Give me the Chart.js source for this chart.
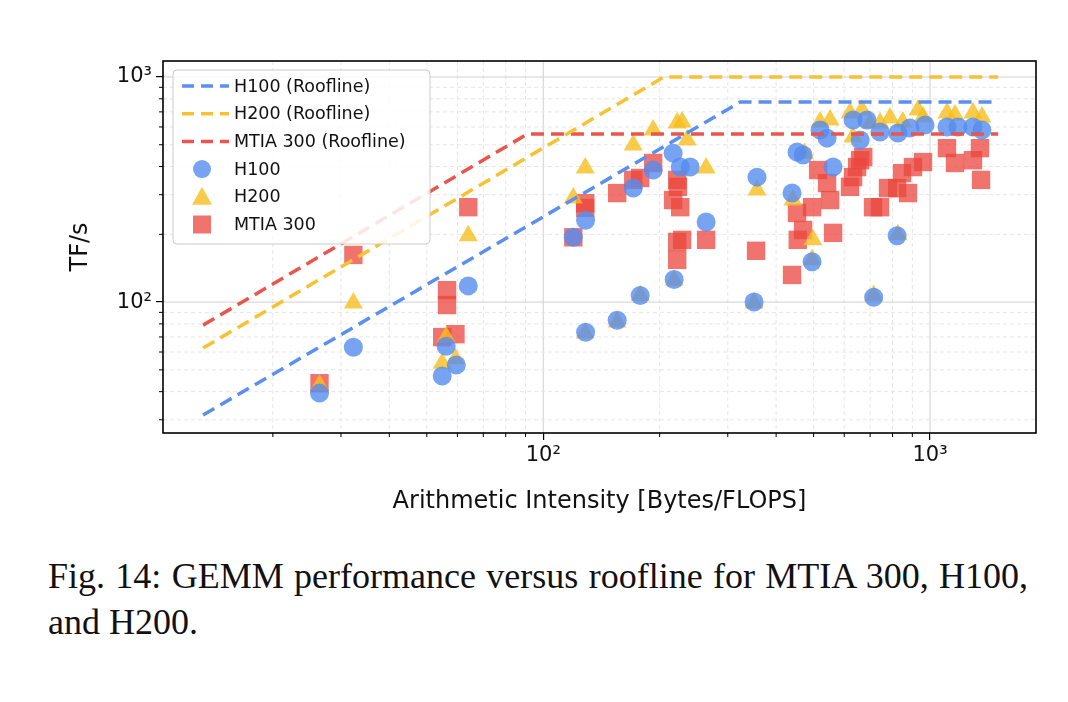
<!DOCTYPE html>
<html><head><meta charset="utf-8">
<script src="https://cdn.jsdelivr.net/npm/chart.js@4.4.1/dist/chart.umd.min.js"></script>
<style>
body{margin:0;background:#fff;width:1068px;height:702px;overflow:hidden}
#wrap{position:absolute;left:0;top:0;width:1068px;height:520px}
#cap{position:absolute;left:48px;top:553px;width:980px;font-family:"Liberation Serif","Times New Roman",serif;font-size:36px;line-height:46px;color:#111;text-align:justify;text-align-last:left}
</style></head><body>
<div id="wrap"><canvas id="c" width="1068" height="520"></canvas></div>
<div id="cap">Fig. 14: GEMM performance versus roofline for MTIA 300, H100, and H200.</div>
<script>
const h100Roof=[[13.2,31.5],[323,774],[1450,774]];
const h200Roof=[[13.2,62.5],[205,1000],[1500,1000]];
const mtiaRoof=[[13.2,79],[91,558],[1500,558]];
const h100Pts=[[26.4,39.4],[32.3,63],[54.8,46.9],[56.1,63.7],[59.6,52.5],[64,118],[119.6,194],[128.7,231],[128.7,73.5],[155.3,83],[178.1,107],[170.9,321],[192.4,386],[216.7,459],[226,398],[239.8,398],[218,126],[263.7,227],[357,359],[350.8,100],[439.8,305],[453,464],[469.6,450],[561.5,398],[495.5,151],[519.6,581],[541.8,535],[632.5,644],[659.6,525],[687,644],[715,105],[742.5,570],[826,564],[822,197],[887.6,593],[970.6,612],[1106,600],[1181,600],[1291,600],[1362,581]];
const h200Pts=[[32.3,99],[64,197],[54.8,53.5],[59.3,56],[26.4,42.8],[56.1,69.9],[119.6,290],[128.4,394],[128.4,72.9],[170.9,499],[192.4,581],[222,625],[228.6,631],[235.6,525],[263.7,394],[155.3,81.5],[178.1,107],[218,125],[357,315],[350.8,99],[442,284],[474,459],[519.6,631],[551.6,644],[621,692],[667,713],[699.5,625],[498,189],[495.5,154],[742.5,625],[788,658],[850,631],[930.8,713],[959,664],[1106,692],[1160,678],[1291,692],[1362,664],[826,199],[715,107],[632.5,541]];
const mtiaPts=[[26.4,43.6],[32.3,162],[64,264],[56.4,113],[56.4,97],[54.8,69.9],[59.3,72],[119.6,194],[128.4,275],[128.4,262],[155.3,305],[170.9,349],[178.1,356],[192.4,415],[222,349],[223,325],[216.7,284],[226,264],[222,185],[228.6,189],[222,154],[263.7,189],[355,169],[439.8,132],[453,249],[455,189],[469.6,209],[495.5,264],[513.6,386],[541.8,338],[551.6,284],[561.5,203],[621,325],[632.5,359],[647.6,398],[659.6,427],[672,441],[712.3,264],[742.5,264],[778.6,321],[822,321],[846.5,374],[877,305],[903.6,398],[959,419],[1106,483],[1160,415],[1291,427],[1346,483],[1355,349]];
const majorTicks=[100,1000];
const tickLabels={100:'10\u00b2',1000:'10\u00b3'};
const xy=a=>a.map(p=>({x:p[0],y:p[1]}));
const BLUE='rgba(85,140,240,0.8)',YEL='rgba(248,190,30,0.8)',RED='rgba(235,70,60,0.75)';
const BLUEL='#5b8ff0',YELL='#f7c131',REDL='#e8564c';
const F='"DejaVu Sans", sans-serif';
function minorVals(min,max){const r=[];for(let d=1;d<=4;d++){for(let k=1;k<10;k++){const v=k*Math.pow(10,d);if(v>min&&v<max)r.push(v);}}return r;}
const gridPlugin={id:'g',beforeDatasetsDraw(ch){const {ctx,chartArea:a,scales:{x,y}}=ch;ctx.save();
 ctx.lineWidth=1;
 minorVals(x.min,x.max).forEach(v=>{const p=x.getPixelForValue(v);const maj=(v===100||v===1000);ctx.strokeStyle=maj?'#d0d0d0':'#e6e6e6';ctx.setLineDash(maj?[]:[4,3]);ctx.beginPath();ctx.moveTo(p,a.top);ctx.lineTo(p,a.bottom);ctx.stroke();});
 minorVals(y.min,y.max).forEach(v=>{const p=y.getPixelForValue(v);const maj=(v===100||v===1000);ctx.strokeStyle=maj?'#d0d0d0':'#e6e6e6';ctx.setLineDash(maj?[]:[4,3]);ctx.beginPath();ctx.moveTo(a.left,p);ctx.lineTo(a.right,p);ctx.stroke();});
 ctx.restore();},
 afterDraw(ch){const {ctx,chartArea:a,scales:{x,y}}=ch;ctx.save();ctx.strokeStyle='#000';ctx.setLineDash([]);
 ctx.lineWidth=1;
 minorVals(x.min,x.max).forEach(v=>{if(v===100||v===1000)return;const p=x.getPixelForValue(v);ctx.beginPath();ctx.moveTo(p,a.bottom);ctx.lineTo(p,a.bottom+4);ctx.stroke();});
 minorVals(y.min,y.max).forEach(v=>{if(v===100||v===1000)return;const p=y.getPixelForValue(v);ctx.beginPath();ctx.moveTo(a.left,p);ctx.lineTo(a.left-4,p);ctx.stroke();});
 ctx.lineWidth=1.6;ctx.strokeRect(a.left,a.top,a.right-a.left,a.bottom-a.top);
 const lx=a.left+10,ly=a.top+9,w=257,h=174;
 ctx.fillStyle='rgba(255,255,255,0.85)';ctx.strokeStyle='#cccccc';ctx.lineWidth=1;
 ctx.beginPath();ctx.roundRect(lx,ly,w,h,4);ctx.fill();ctx.stroke();
 const items=[['line',BLUEL,'H100 (Roofline)'],['line',YELL,'H200 (Roofline)'],['line',REDL,'MTIA 300 (Roofline)'],['circle',BLUE,'H100'],['tri',YEL,'H200'],['sq',RED,'MTIA 300']];
 ctx.font='17.5px '+F;ctx.textBaseline='middle';
 items.forEach((it,i)=>{const cy=ly+16+i*27.7,cx=lx+29;
  if(it[0]==='line'){ctx.strokeStyle=it[1];ctx.lineWidth=3.5;ctx.setLineDash([12,7]);ctx.beginPath();ctx.moveTo(lx+9,cy);ctx.lineTo(lx+56,cy);ctx.stroke();ctx.setLineDash([]);}
  else{ctx.fillStyle=it[1];ctx.beginPath();
   if(it[0]==='circle')ctx.arc(cx,cy,9,0,7);
   else if(it[0]==='tri'){ctx.moveTo(cx,cy-10);ctx.lineTo(cx+10,cy+8);ctx.lineTo(cx-10,cy+8);ctx.closePath();}
   else ctx.rect(cx-9,cy-9,18,18);
   ctx.fill();}
  ctx.fillStyle='#111';ctx.fillText(it[2],lx+61,cy+1);});
 ctx.restore();}};
const sc=(lbl,data,col,style)=>({type:'scatter',label:lbl,data:xy(data),backgroundColor:col,borderWidth:0,pointStyle:style,pointRadius:style==='triangle'?11:(style==='rect'?13:9.5),pointHoverRadius:9});
const ln=(lbl,data,col)=>({type:'line',label:lbl,data:xy(data),borderColor:col,borderWidth:3.5,borderDash:[13,7],pointRadius:0,fill:false,tension:0});
new Chart(document.getElementById('c'),{
 data:{datasets:[ln('H100 (Roofline)',h100Roof,BLUEL),ln('H200 (Roofline)',h200Roof,YELL),ln('MTIA 300 (Roofline)',mtiaRoof,REDL),
  sc('H100',h100Pts,BLUE,'circle'),sc('H200',h200Pts,YEL,'triangle'),sc('MTIA 300',mtiaPts,RED,'rect')]},
 options:{responsive:false,animation:false,devicePixelRatio:1,
  layout:{padding:{left:62,top:61,right:32,bottom:0}},
  plugins:{legend:{display:false},tooltip:{enabled:false}},
  scales:{
   x:{type:'logarithmic',min:10.4,max:1879,afterBuildTicks:s=>{s.ticks=majorTicks.map(v=>({value:v}));},afterFit:s=>{s.height=87;},
    grid:{drawOnChartArea:false,drawTicks:true,tickLength:7,color:'#000',lineWidth:1.2},border:{display:false},
    ticks:{callback:v=>tickLabels[v]||'',color:'#111',font:{family:F,size:21},maxRotation:0,padding:3},
    title:{display:true,text:'Arithmetic Intensity [Bytes/FLOPS]',color:'#111',font:{family:F,size:24},padding:{top:2}}},
   y:{type:'logarithmic',min:26.2,max:1178,afterBuildTicks:s=>{s.ticks=majorTicks.map(v=>({value:v}));},afterFit:s=>{s.width=101;},
    grid:{drawOnChartArea:false,drawTicks:true,tickLength:7,color:'#000',lineWidth:1.2},border:{display:false},
    ticks:{callback:v=>tickLabels[v]||'',color:'#111',font:{family:F,size:21},padding:4},
    title:{display:true,text:'TF/s',color:'#111',font:{family:F,size:24},padding:{bottom:0}}}
  }},
 plugins:[gridPlugin]});
</script></body></html>
